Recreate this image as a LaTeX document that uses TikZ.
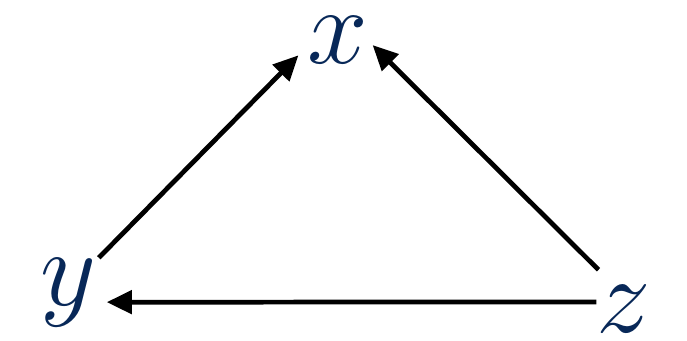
\documentclass[tikz,border=0pt]{standalone}
\usepackage{graphicx}
\usepackage{amsmath,amssymb}
\usetikzlibrary{arrows.meta,calc,positioning}
\definecolor{varblue}{RGB}{8,40,88}
\newcommand{\bigvar}[1]{\scalebox{2.49}{$#1$}}
\tikzset{
  var/.style={inner sep=0pt,anchor=base,text=varblue,font=\Huge},
  edge/.style={-{Triangle[length=0.5cm,width=0.46cm]},line width=2.7pt}
}

\begin{document}
\begin{tikzpicture}
  \useasboundingbox (0,0) rectangle (13.74,6.8);
  \node[var] (x) at (6.76,5.54) {\bigvar{x}};
  \node[var] (y) at (1.37,0.70) {\bigvar{y}};
  \node[var] (z) at (12.48,0.16) {\bigvar{z}};

  \draw[edge] ([xshift=0.04cm]y.north east) -- ([xshift=-0.18cm,yshift=0.16cm]x.south west);
  \draw[edge] ([xshift=0.04cm,yshift=0.3cm]z.north west) -- ([xshift=0.08cm,yshift=-0.11cm]x.east);
  \draw[edge] ([yshift=0.13cm]z.west) -- ([xshift=0.2cm,yshift=-0.2cm]y.east);
\end{tikzpicture}
\end{document}
